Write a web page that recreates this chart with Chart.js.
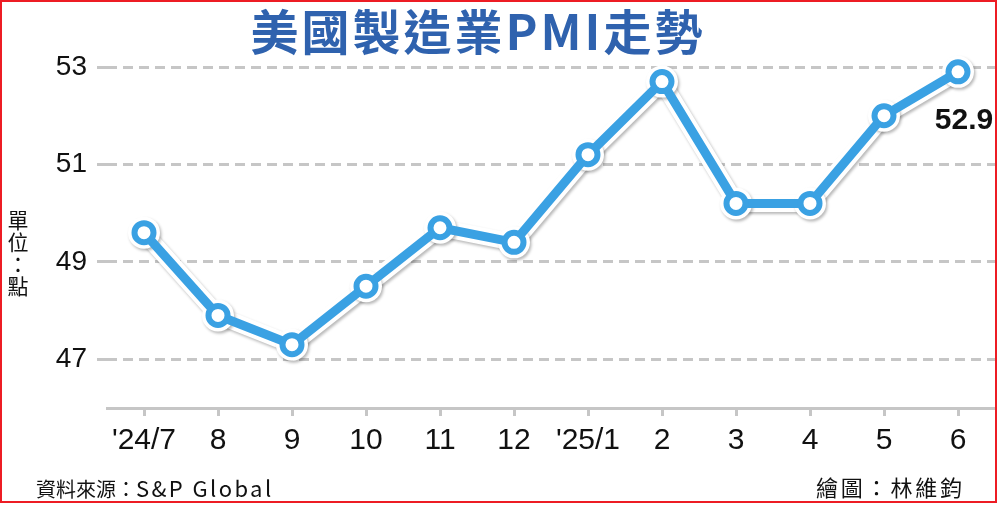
<!DOCTYPE html>
<html lang="zh-Hant">
<head>
<meta charset="utf-8">
<title>美國製造業PMI走勢</title>
<script src="https://cdn.jsdelivr.net/npm/chart.js@4/dist/chart.umd.min.js"></script>
<style>
  html, body { margin: 0; padding: 0; background: #fff; }
  #wrap { position: relative; width: 1000px; height: 505px; overflow: hidden; }
  #frame { position: absolute; left: 0; top: 0; width: 993px; height: 499px; border: 2px solid #ed1c24; }
  #myChart { position: absolute; left: 0; top: 0; }
  .txt { position: absolute; white-space: nowrap; font-family: "Noto Sans CJK TC", "Noto Sans", sans-serif; color: #111; line-height: 1; }
  #titulo { left: 478px; top: 5px; transform: translateX(-50%); font-size: 48px; font-weight: 700; color: #2f62ae; letter-spacing: 3px; line-height: 48px; }
  #unidade { left: 7px; top: 210px; font-size: 21px; writing-mode: vertical-rl; letter-spacing: 1px; }
  #fonte { left: 36px; top: 476px; font-size: 20px; }
  #fonte span { font-size: 22px; letter-spacing: 2.4px; }
  #autor { left: 816px; top: 475px; font-size: 22px; letter-spacing: 2.8px; }
</style>
</head>
<body>
<div id="wrap">
  <canvas id="myChart" width="1000" height="505"></canvas>
  <div id="titulo" class="txt">美國製造業PMI走勢</div>
  <div id="unidade" class="txt">單位：點</div>
  <div id="fonte" class="txt">資料來源：<span>S&amp;P Global</span></div>
  <div id="autor" class="txt">繪圖：林維鈞</div>
  <div id="frame"></div>
</div>
<script>
// dados do gráfico
const meses = ["'24/7", '8', '9', '10', '11', '12', "'25/1", '2', '3', '4', '5', '6'];
const pmi = [49.6, 47.9, 47.3, 48.5, 49.7, 49.4, 51.2, 52.7, 50.2, 50.2, 52.0, 52.9];
const yTicks = [47, 49, 51, 53];

const azul = '#3aa1e3';
const cinza = '#c6c6c6';

// sombra suave só na camada branca de contorno
const sombra = {
    id: 'sombra',
    beforeDatasetDraw(chart, args) {
        if (args.index !== 1) return;
        const c = chart.ctx;
        c.save();
        c.shadowColor = 'rgba(0,0,0,0.28)';
        c.shadowBlur = 3;
        c.shadowOffsetX = 1.5;
        c.shadowOffsetY = 2;
    },
    afterDatasetDraw(chart, args) {
        if (args.index === 1) chart.ctx.restore();
    }
};

// rótulo do último valor
const ultimoValor = {
    id: 'ultimoValor',
    afterDatasetsDraw(chart) {
        const meta = chart.getDatasetMeta(0);
        const pt = meta.data[meta.data.length - 1];
        const c = chart.ctx;
        c.save();
        c.font = 'bold 30px "Liberation Sans", Arial, sans-serif';
        c.fillStyle = '#111';
        c.textAlign = 'center';
        c.textBaseline = 'middle';
        c.fillText(pmi[pmi.length - 1].toFixed(1), pt.x + 6, pt.y + 49);
        c.restore();
    }
};

const ctx = document.getElementById('myChart').getContext('2d');
const myChart = new Chart(ctx, {
    type: 'line',
    data: {
        labels: meses,
        datasets: [{
            label: 'PMI',
            data: pmi,
            borderColor: azul,
            borderWidth: 9,
            borderJoinStyle: 'round',
            borderCapStyle: 'round',
            pointRadius: 9.5,
            pointBorderWidth: 6,
            pointBorderColor: azul,
            pointBackgroundColor: '#fff',
            tension: 0,
            clip: false
        }, {
            label: 'contorno',
            data: pmi,
            borderColor: '#fff',
            borderWidth: 17,
            borderJoinStyle: 'round',
            borderCapStyle: 'round',
            pointRadius: 16,
            pointBorderWidth: 0,
            pointBackgroundColor: '#fff',
            tension: 0,
            clip: false
        }]
    },
    options: {
        responsive: false,
        animation: false,
        events: [],
        layout: { autoPadding: false, padding: { left: 0, right: 5, top: 67, bottom: 0 } },
        plugins: {
            legend: { display: false },
            tooltip: { enabled: false },
            title: { display: false }
        },
        scales: {
            x: {
                offset: true,
                afterFit(scale) { scale.height = 97; },
                border: { display: true, color: cinza, width: 3 },
                grid: {
                    drawOnChartArea: false,
                    drawTicks: true,
                    offset: false,
                    tickLength: 8,
                    tickWidth: 3,
                    tickColor: cinza
                },
                ticks: {
                    color: '#111',
                    padding: 7,
                    maxRotation: 0,
                    autoSkip: false,
                    font: { family: '"Liberation Sans", Arial, sans-serif', size: 30 }
                }
            },
            y: {
                min: 46,
                max: 53,
                afterFit(scale) { scale.width = 107; },
                afterBuildTicks(scale) { scale.ticks = yTicks.map(v => ({ value: v })); },
                border: { display: false, dash: [10, 6] },
                grid: {
                    color: cinza,
                    lineWidth: 3,
                    drawTicks: true,
                    tickLength: 10,
                    tickWidth: 3,
                    tickColor: cinza,
                    tickBorderDash: [10, 6]
                },
                ticks: {
                    color: '#111',
                    padding: 10,
                    font: { family: '"Liberation Sans", Arial, sans-serif', size: 28 }
                }
            }
        }
    },
    plugins: [sombra, ultimoValor]
});
</script>
</body>
</html>
